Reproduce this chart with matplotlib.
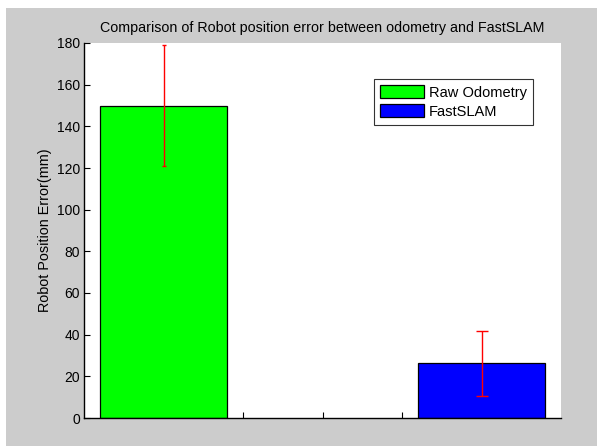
import matplotlib
matplotlib.use("Agg")
import matplotlib.pyplot as plt
from matplotlib.patches import Rectangle, Patch

categories = ["Raw Odometry", "FastSLAM"]
positions = [1.0, 2.0]
means = [149.8, 26.4]
errors = [29.0, 15.6]
colors = ["#00FF00", "#0000FF"]
yticks = [0, 20, 40, 60, 80, 100, 120, 140, 160, 180]
xticks = [1.0, 1.25, 1.5, 1.75, 2.0]

plt.rcParams['font.family'] = ['Liberation Sans', 'DejaVu Sans']

fig = plt.figure(figsize=(5.97, 4.46), dpi=100)
fig.patch.set_facecolor("white")
fig.patches.append(Rectangle((6 / 597, 0), 1 - 6 / 597, 1 - 8 / 446,
                             transform=fig.transFigure, facecolor="#CCCCCC",
                             edgecolor="none", zorder=-10))

ax = fig.add_axes([84 / 597, 28 / 446, 477 / 597, 375 / 446])
ax.set_facecolor("white")

for p, m, c in zip(positions, means, colors):
    ax.bar(p, m, width=0.4, color=c, edgecolor="black", linewidth=0.9, zorder=2)

caps = [1.5, 4.0]
for p, m, e, cs in zip(positions, means, errors, caps):
    ax.errorbar(p, m, yerr=e, fmt="none", ecolor="red", elinewidth=1.0,
                capsize=cs, capthick=1.0, zorder=3)

ax.set_xlim(0.75, 2.25)
ax.set_ylim(0, 180)
ax.set_yticks(yticks)
ax.set_xticks(xticks)
ax.set_xticklabels([])
ax.tick_params(axis="both", direction="in", length=4, width=0.8,
               labelsize=10, colors="black")
ax.tick_params(axis="y", pad=3)
for s in ["top", "right"]:
    ax.spines[s].set_visible(False)
for s in ["left", "bottom"]:
    ax.spines[s].set_linewidth(1.0)

ax.set_title("Comparison of Robot position error between odometry and FastSLAM",
             fontsize=10.3, pad=8)
ax.set_ylabel("Robot Position Error(mm)", fontsize=10.4, labelpad=3)

handles = [Patch(facecolor=c, edgecolor="black", linewidth=0.9) for c in colors]
leg = ax.legend(handles, categories, loc="upper left",
                bbox_to_anchor=((374 - 84) / 477, (418 - 79) / 375),
                fontsize=10.5, frameon=True, fancybox=False,
                edgecolor="black", handlelength=3.0, handleheight=1.05,
                borderpad=0.4, labelspacing=0.3, handletextpad=0.35,
                borderaxespad=0)
leg.get_frame().set_linewidth(0.8)

fig.savefig("out.png", dpi=100, facecolor=fig.get_facecolor())
